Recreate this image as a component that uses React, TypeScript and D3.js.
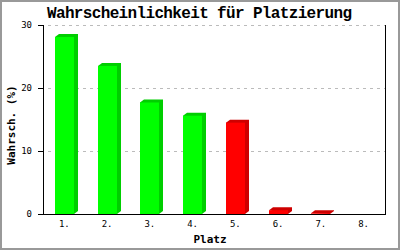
import React from "react";
import * as d3 from "d3";

const categories = ["1.", "2.", "3.", "4.", "5.", "6.", "7.", "8."];
const values = [28.1, 23.5, 17.7, 15.6, 14.5, 0.6, 0.1, 0];
const barColors = ["#00ff00", "#00ff00", "#00ff00", "#00ff00", "#ff0000", "#ff0000", "#ff0000", "#ff0000"];
const yTicks = [0, 10, 20, 30];
const title = "Wahrscheinlichkeit für Platzierung";
const xTitle = "Platz";
const yTitle = "Wahrsch. (%)";

const W = 400;
const H = 250;
const left = 43;
const right = 385;
const top = 25;
const bottom = 214;
const mono = "'Liberation Mono', 'DejaVu Sans Mono', monospace";
const mono2 = "'DejaVu Sans Mono', 'Liberation Mono', monospace";

export default function App() {
  const x = d3.scaleBand<string>().domain(categories).range([left, right]).padding(0);
  const y = d3.scaleLinear().domain([0, 30]).range([bottom, top]);
  const bw = x.bandwidth() * 0.45;
  const dx = 4;
  const dy = 3;

  return (
    <svg
      width={W}
      height={H}
      style={{ position: "absolute", left: 0, top: 0, background: "#fff" }}
    >
      <rect x={0} y={0} width={W} height={H} fill="#fff" />
      <rect x={1} y={1} width={W - 2} height={H - 2} fill="none" stroke="#999" strokeWidth={2} />
      <text
        x={47}
        y={18}
        fontFamily={mono}
        fontWeight="bold"
        fontSize={16}
        textLength={305}
        lengthAdjust="spacing"
      >
        {title}
      </text>
      {yTicks.filter((t) => t > 0).map((t) => (
        <line
          key={"g" + t}
          x1={48}
          x2={right}
          y1={Math.round(y(t)) + 0.5}
          y2={Math.round(y(t)) + 0.5}
          stroke="#bbbbbb"
          strokeDasharray="3,4"
        />
      ))}
      {values.map((v, i) => {
        const cx = (x(categories[i]) as number) + x.bandwidth() / 2;
        const x0 = Math.round(cx - bw / 2);
        const x1 = Math.round(cx + bw / 2);
        const yt = y(v);
        const yb = y(0);
        if (v <= 0) return null;
        const front = barColors[i];
        const side = d3.color(front)!.darker(0.6).formatHex();
        const pts = [
          [x0, yt],
          [x0 + dx, yt - dy],
          [x1 + dx, yt - dy],
          [x1 + dx, yb - dy],
          [x1, yb],
        ]
          .map((p) => p.join(","))
          .join(" ");
        return (
          <g key={"b" + i}>
            <polygon points={pts} fill={side} />
            <rect x={x0} y={yt} width={x1 - x0} height={yb - yt} fill={front} />
          </g>
        );
      })}
      <line x1={left + 0.5} x2={left + 0.5} y1={top} y2={bottom + 0.5} stroke="#000" />
      <line x1={right + 0.5} x2={right + 0.5} y1={top} y2={bottom + 0.5} stroke="#000" />
      <line x1={left} x2={right + 1} y1={bottom + 0.5} y2={bottom + 0.5} stroke="#000" />
      {yTicks.map((t) => (
        <g key={"t" + t}>
          <line
            x1={38}
            x2={left}
            y1={Math.round(y(t)) + 0.5}
            y2={Math.round(y(t)) + 0.5}
            stroke="#000"
          />
          <text
            x={32}
            y={y(t) + 3}
            textAnchor="end"
            fontFamily={mono2}
            fontSize={9}
          >
            {t}
          </text>
        </g>
      ))}
      {categories.map((c) => (
        <text
          key={"c" + c}
          x={(x(c) as number) + x.bandwidth() / 2}
          y={227}
          textAnchor="middle"
          fontFamily={mono2}
          fontSize={9}
        >
          {c}
        </text>
      ))}
      <text
        x={210}
        y={243}
        textAnchor="middle"
        fontFamily={mono2}
        fontWeight="bold"
        fontSize={11}
      >
        {xTitle}
      </text>
      <text
        transform={`translate(15,125) rotate(-90)`}
        textAnchor="middle"
        fontFamily={mono2}
        fontWeight="bold"
        fontSize={11}
      >
        {yTitle}
      </text>
    </svg>
  );
}
